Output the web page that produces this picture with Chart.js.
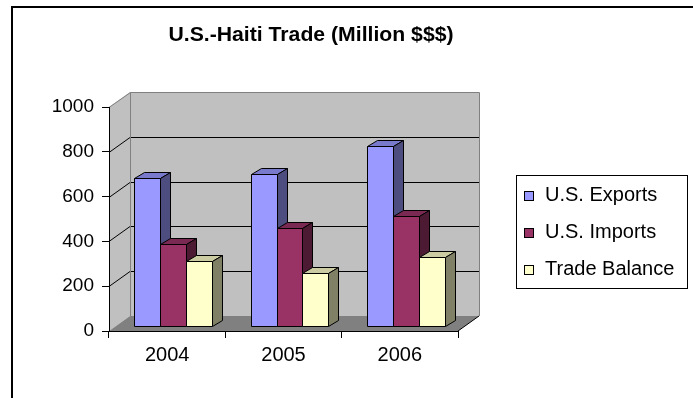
<!DOCTYPE html>
<html>
<head>
<meta charset="utf-8">
<title>U.S.-Haiti Trade</title>
<script src="https://cdn.jsdelivr.net/npm/chart.js@4.4.1/dist/chart.umd.min.js"></script>
<style>
  html, body { margin: 0; padding: 0; background: #fff; }
  canvas { display: block; }
</style>
</head>
<body>
<canvas id="chartCanvas" width="693" height="398"></canvas>
<script>
const years = ["2004", "2005", "2006"];
const exportsUS = [662, 679, 805];
const importsUS = [366, 439, 492];
const tradeBalance = [290, 235, 308];
const seriesNames = ["U.S. Exports", "U.S. Imports", "Trade Balance"];
const yTicks = [0, 200, 400, 600, 800, 1000];
const chartTitle = "U.S.-Haiti Trade (Million $$$)";

// front / top / side shading per series
const faceColors = [
    { front: "#9999ff", top: "#7a7acc", side: "#4d4d80" },
    { front: "#993366", top: "#7a2952", side: "#4d1a33" },
    { front: "#ffffcc", top: "#cccca3", side: "#808066" }
];

// depth offsets of the fake 3D box
const WALL = { dx: 21, dy: -15 };
const BAR_FRONT = { dx: 6, dy: -5 };
const BAR_DEPTH = { dx: 10, dy: -6 };

Chart.defaults.font.family = "'Liberation Sans', Arial, sans-serif";
Chart.defaults.color = "#000";

function poly(ctx, pts, fill, stroke) {
    ctx.beginPath();
    ctx.moveTo(pts[0][0], pts[0][1]);
    for (let i = 1; i < pts.length; i++) ctx.lineTo(pts[i][0], pts[i][1]);
    ctx.closePath();
    if (fill) { ctx.fillStyle = fill; ctx.fill(); }
    if (stroke) { ctx.strokeStyle = stroke; ctx.stroke(); }
}

function line(ctx, pts, color) {
    ctx.beginPath();
    ctx.moveTo(pts[0][0], pts[0][1]);
    for (let i = 1; i < pts.length; i++) ctx.lineTo(pts[i][0], pts[i][1]);
    ctx.strokeStyle = color;
    ctx.stroke();
}

const box3d = {
    id: "box3d",
    beforeDraw(chart) {
        const { ctx, chartArea: a, scales: { y } } = chart;
        const L = a.left, R = a.right, T = a.top, B = a.bottom;
        const dx = WALL.dx, dy = WALL.dy;
        ctx.save();
        ctx.fillStyle = "#fff";
        ctx.fillRect(0, 0, chart.width, chart.height);

        // outer frame
        ctx.lineWidth = 2;
        line(ctx, [[12, chart.height], [12, 7], [chart.width, 7]], "#000");

        // walls and floor
        ctx.lineWidth = 1;
        poly(ctx, [[L, T], [L + dx, T + dy], [L + dx, B + dy], [L, B]], "#c0c0c0");
        poly(ctx, [[L + dx, T + dy], [R + dx, T + dy], [R + dx, B + dy], [L + dx, B + dy]], "#c0c0c0");
        poly(ctx, [[L, B], [R, B], [R + dx, B + dy], [L + dx, B + dy]], "#808080");

        // gridlines across side and back wall
        y.ticks.forEach(t => {
            if (t.value === y.min || t.value === y.max) return;
            const py = Math.round(y.getPixelForValue(t.value)) + 0.5;
            line(ctx, [[L, py], [L + dx, py + dy], [R + dx, py + dy]], "#000");
        });

        // wall edges
        const tp = Math.round(T) + 0.5;
        line(ctx, [[L, tp], [L + dx + 0.5, tp + dy], [R + dx + 0.5, tp + dy], [R + dx + 0.5, B + dy]], "#808080");
        line(ctx, [[L + dx + 0.5, tp + dy], [L + dx + 0.5, B + dy]], "#808080");
        line(ctx, [[R, B], [R + dx, B + dy]], "#000");
        ctx.restore();
    },
    beforeDatasetsDraw(chart) {
        const { ctx } = chart;
        const metas = chart.data.datasets.map((_, i) => chart.getDatasetMeta(i));
        const dx = BAR_DEPTH.dx, dy = BAR_DEPTH.dy;
        ctx.save();
        ctx.translate(BAR_FRONT.dx, BAR_FRONT.dy);
        ctx.lineWidth = 1;
        ctx.lineJoin = "round";
        years.forEach((_, j) => {
            metas.forEach((meta, i) => {
                const p = meta.data[j].getProps(["x", "y", "base", "width"], true);
                const l = Math.round(p.x - p.width / 2) + 0.5;
                const r = Math.round(p.x + p.width / 2) + 0.5;
                const top = Math.round(p.y) + 0.5;
                const base = Math.round(p.base) + 0.5;
                const c = faceColors[i];
                poly(ctx, [[l, top], [l + dx, top + dy], [r + dx, top + dy], [r, top]], c.top, "#000");
                poly(ctx, [[r, top], [r + dx, top + dy], [r + dx, base + dy], [r, base]], c.side, "#000");
                poly(ctx, [[l, top], [r, top], [r, base], [l, base]], c.front, "#000");
            });
        });
        ctx.restore();
        return false;
    },
    afterDraw(chart) {
        const { ctx } = chart;
        ctx.save();
        // title, slightly widened like the original heading
        ctx.fillStyle = "#000";
        ctx.font = "bold 20px 'Liberation Sans', Arial, sans-serif";
        ctx.textAlign = "center";
        ctx.textBaseline = "alphabetic";
        ctx.translate(311, 41);
        ctx.scale(1.06, 1);
        ctx.fillText(chartTitle, 0, 0);
        ctx.setTransform(1, 0, 0, 1, 0, 0);

        // legend box
        ctx.lineWidth = 1;
        ctx.fillStyle = "#fff";
        ctx.fillRect(516.5, 175.5, 171, 113);
        ctx.strokeStyle = "#000";
        ctx.strokeRect(516.5, 175.5, 171, 113);
        ctx.font = "20px 'Liberation Sans', Arial, sans-serif";
        ctx.textAlign = "left";
        chart.data.datasets.forEach((ds, i) => {
            const baseLine = 201 + i * 37;
            ctx.fillStyle = ds.backgroundColor;
            ctx.fillRect(524.5, baseLine - 9.5, 9, 9);
            ctx.strokeStyle = "#000";
            ctx.strokeRect(524.5, baseLine - 9.5, 9, 9);
            ctx.fillStyle = "#000";
            ctx.fillText(ds.label, 545, baseLine);
        });
        ctx.restore();
    }
};

new Chart(document.getElementById("chartCanvas"), {
    type: "bar",
    data: {
        labels: years,
        datasets: [
            { label: seriesNames[0], data: exportsUS, backgroundColor: faceColors[0].front },
            { label: seriesNames[1], data: importsUS, backgroundColor: faceColors[1].front },
            { label: seriesNames[2], data: tradeBalance, backgroundColor: faceColors[2].front }
        ]
    },
    options: {
        responsive: false,
        animation: false,
        events: [],
        layout: { padding: { top: 107, right: 235, left: 0, bottom: 0 } },
        datasets: { bar: { categoryPercentage: 0.67, barPercentage: 1 } },
        plugins: {
            legend: { display: false },
            title: { display: false },
            tooltip: { enabled: false }
        },
        scales: {
            x: {
                grid: { drawOnChartArea: false, drawTicks: true, tickLength: 7, color: "#000", offset: true },
                border: { display: true, color: "#000" },
                ticks: { font: { size: 20 }, padding: 5 },
                afterFit: s => { s.height = 67; }
            },
            y: {
                min: 0,
                max: 1000,
                afterBuildTicks: s => { s.ticks = yTicks.map(v => ({ value: v })); },
                grid: { drawOnChartArea: false, drawTicks: true, tickLength: 7, color: "#000" },
                border: { display: true, color: "#000" },
                ticks: { font: { size: 19 }, padding: 8, callback: v => String(v) },
                afterFit: s => { s.width = 109; }
            }
        }
    },
    plugins: [box3d]
});
</script>
</body>
</html>
